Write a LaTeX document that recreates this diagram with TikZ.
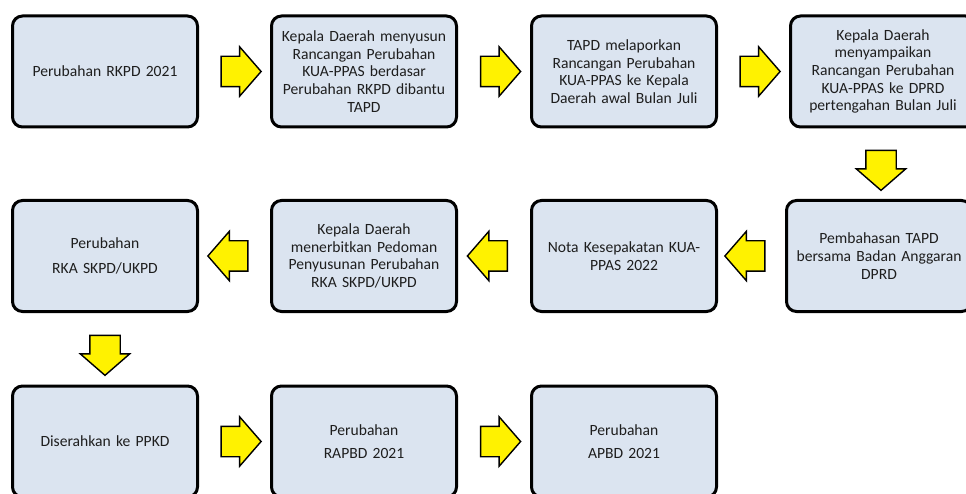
\documentclass[tikz,border=0pt]{standalone}
\usepackage{fontspec}
\setmainfont{Carlito}
\usetikzlibrary{shapes.arrows, calc, positioning}

\definecolor{boxfill}{RGB}{219,228,240}
\definecolor{boxtext}{RGB}{30,30,30}

\tikzset{
  stepbox/.style={draw=black, line width=3pt, rounded corners=10pt, fill=boxfill,
    minimum width=185pt, minimum height=111pt, text width=182pt, align=center,
    inner sep=0pt, text=boxtext, font=\fontsize{15.6}{17.7}\selectfont},
  blockarrow/.style={single arrow, draw=black, line width=1.4pt, fill=yellow,
    minimum height=40pt, minimum width=48pt, inner xsep=0pt, inner ysep=14.5pt,
    single arrow head extend=9.5pt, single arrow tip angle=98},
  downarrow/.style={blockarrow, shape border rotate=270, inner xsep=14.5pt, inner ysep=0pt},
  leftarrow/.style={blockarrow, shape border rotate=180},
}

\begin{document}
\begin{tikzpicture}[x=1pt, y=-1pt]
\useasboundingbox (0,0) rectangle (966,494);
% first row
\node [stepbox] (rkpd)    at (105,71.5)  {Perubahan RKPD 2021};
\node [stepbox] (susun)   at (364,71.5)  {Kepala Daerah menyusun\\Rancangan Perubahan\\KUA-PPAS berdasar\\Perubahan RKPD dibantu\\TAPD};
\node [stepbox] (lapor)   at (624,71.5)  {TAPD melaporkan\\Rancangan Perubahan\\KUA-PPAS ke Kepala\\Daerah awal Bulan Juli};
\node [stepbox] (kirim)   at (883,71.5)  {Kepala Daerah\\menyampaikan\\Rancangan Perubahan\\KUA-PPAS ke DPRD\\pertengahan Bulan Juli};
% second row
\node [stepbox] (bahas)   at (879,256)   {Pembahasan TAPD\\bersama Badan Anggaran\\DPRD};
\node [stepbox] (nota)    at (624,256)   {Nota Kesepakatan KUA-\\PPAS 2022};
\node [stepbox] (pedoman) at (364,256)   {Kepala Daerah\\menerbitkan Pedoman\\Penyusunan Perubahan\\RKA SKPD/UKPD};
\node [stepbox] (rka)     at (105,256)   {Perubahan\\[8pt]RKA SKPD/UKPD};
% third row
\node [stepbox] (ppkd)    at (105,441.5) {Diserahkan ke PPKD};
\node [stepbox] (rapbd)   at (364,441.5) {Perubahan\\[6pt]RAPBD 2021};
\node [stepbox] (apbd)    at (624,441.5) {Perubahan\\[6pt]APBD 2021};

% block arrows
\node [blockarrow] (a1) at ($(rkpd.east)!0.5!(susun.west)$) {};
\node [blockarrow] (a2) at ($(susun.east)!0.5!(lapor.west)$) {};
\node [blockarrow] (a3) at ($(lapor.east)!0.5!(kirim.west)$) {};
\node [downarrow] (a4) at ($(kirim.south)!0.5!(bahas.north)$) {};
\node [leftarrow] (a5) at ($(bahas.west)!0.5!(nota.east)$) {};
\node [leftarrow] (a6) at ($(nota.west)!0.5!(pedoman.east)$) {};
\node [leftarrow] (a7) at ($(pedoman.west)!0.5!(rka.east)$) {};
\node [downarrow] (a8) at ($(rka.south)!0.5!(ppkd.north)$) {};
\node [blockarrow] (a9) at ($(ppkd.east)!0.5!(rapbd.west)$) {};
\node [blockarrow] (a10) at ($(rapbd.east)!0.5!(apbd.west)$) {};
\end{tikzpicture}
\end{document}
